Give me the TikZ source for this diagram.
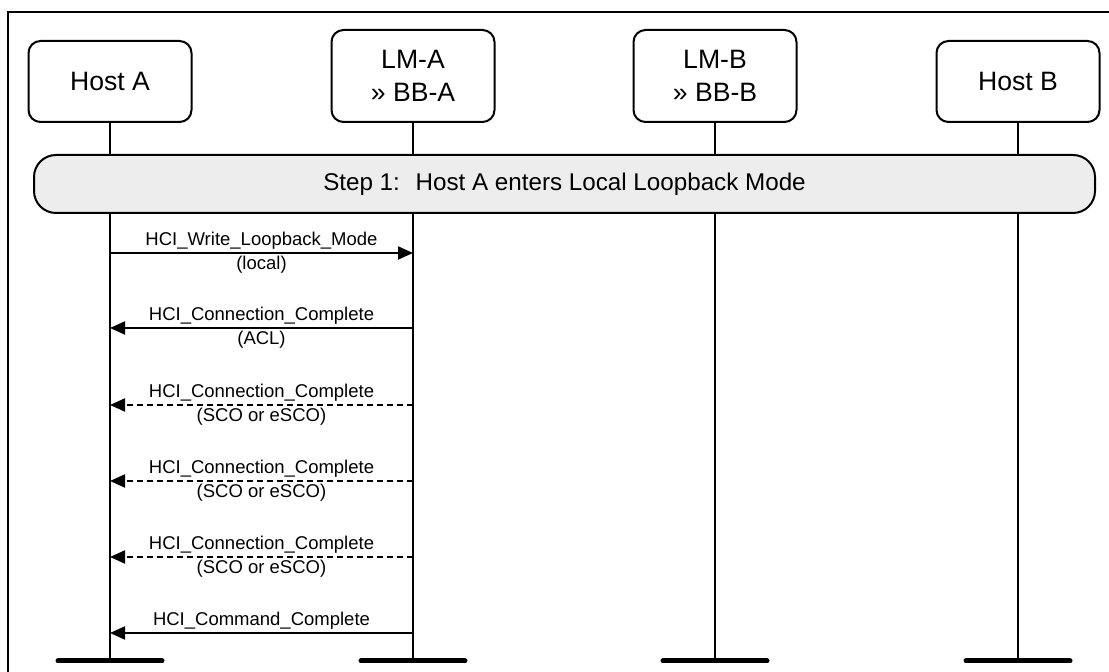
\documentclass[tikz,border=0pt]{standalone}
\usepackage{fontspec}
\setmainfont{Liberation Sans}
\usetikzlibrary{arrows.meta, positioning}
\definecolor{stepfill}{HTML}{EDEDED}
\tikzset{
    box/.style={
        draw,
        rounded corners=6pt,
        line width=1pt,
        minimum width=81.5pt,
        align=center,
        font=\fontsize{13.3}{16.5}\selectfont
    },
    stepbar/.style={
        draw,
        fill=stepfill,
        rounded corners=11pt,
        line width=1pt,
        minimum width=530.5pt,
        minimum height=29pt,
        font=\fontsize{12.1}{14}\selectfont
    },
    lifeline/.style={line width=1pt},
    endbar/.style={line width=2.5pt, line cap=round},
    line/.style={-{Triangle[length=7.5pt, width=6.5pt]}, line width=1pt},
    dashedline/.style={line, dash pattern=on 3pt off 2pt},
    msg/.style={font=\fontsize{9.25}{11}\selectfont, inner sep=1.2pt}
}

\begin{document}
\begin{tikzpicture}[x=0.5pt, y=-0.5pt]
\useasboundingbox (0,0) rectangle (1109,672);
% frame
\draw[line width=1pt] (7.5,672) -- (7.5,12.5) -- (1109,12.5);

% instances
\node[box, minimum height=40.5pt, anchor=south] (hostA) at (110,123) {Host A};
\node[box, minimum height=46pt, anchor=south] (lmA) at (413,123) {LM-A\\» BB-A};
\node[box, minimum height=46pt, anchor=south] (lmB) at (715,123) {LM-B\\» BB-B};
\node[box, minimum height=40.5pt, anchor=south] (hostB) at (1018,123) {Host B};

\coordinate (endA) at (110,661);
\coordinate (endLA) at (413,661);
\coordinate (endLB) at (715,661);
\coordinate (endB) at (1018,661);

% lifelines
\draw[lifeline] (hostA) -- (endA);
\draw[lifeline] (lmA) -- (endLA);
\draw[lifeline] (lmB) -- (endLB);
\draw[lifeline] (hostB) -- (endB);

\draw[endbar] ([xshift=-26pt]endA) -- ([xshift=26pt]endA);
\draw[endbar] ([xshift=-26pt]endLA) -- ([xshift=26pt]endLA);
\draw[endbar] ([xshift=-26pt]endLB) -- ([xshift=26pt]endLB);
\draw[endbar] ([xshift=-26pt]endB) -- ([xshift=26pt]endB);

% step
\node[stepbar] (step1) at (564.5,184) {Step 1:~ Host A enters Local Loopback Mode};

% messages
\coordinate (r1) at (0,253);
\coordinate (r2) at (0,328);
\coordinate (r3) at (0,405);
\coordinate (r4) at (0,481);
\coordinate (r5) at (0,557);
\coordinate (r6) at (0,633);

\draw[line] (hostA |- r1) -- (lmA |- r1)
    node[msg, midway, above] {HCI\_Write\_Loopback\_Mode}
    node[msg, midway, below] {(local)};
\draw[line] (lmA |- r2) -- (hostA |- r2)
    node[msg, midway, above] {HCI\_Connection\_Complete}
    node[msg, midway, below] {(ACL)};
\draw[dashedline] (lmA |- r3) -- (hostA |- r3)
    node[msg, midway, above] {HCI\_Connection\_Complete}
    node[msg, midway, below] {(SCO or eSCO)};
\draw[dashedline] (lmA |- r4) -- (hostA |- r4)
    node[msg, midway, above] {HCI\_Connection\_Complete}
    node[msg, midway, below] {(SCO or eSCO)};
\draw[dashedline] (lmA |- r5) -- (hostA |- r5)
    node[msg, midway, above] {HCI\_Connection\_Complete}
    node[msg, midway, below] {(SCO or eSCO)};
\draw[line] (lmA |- r6) -- (hostA |- r6)
    node[msg, midway, above] {HCI\_Command\_Complete};
\end{tikzpicture}
\end{document}
